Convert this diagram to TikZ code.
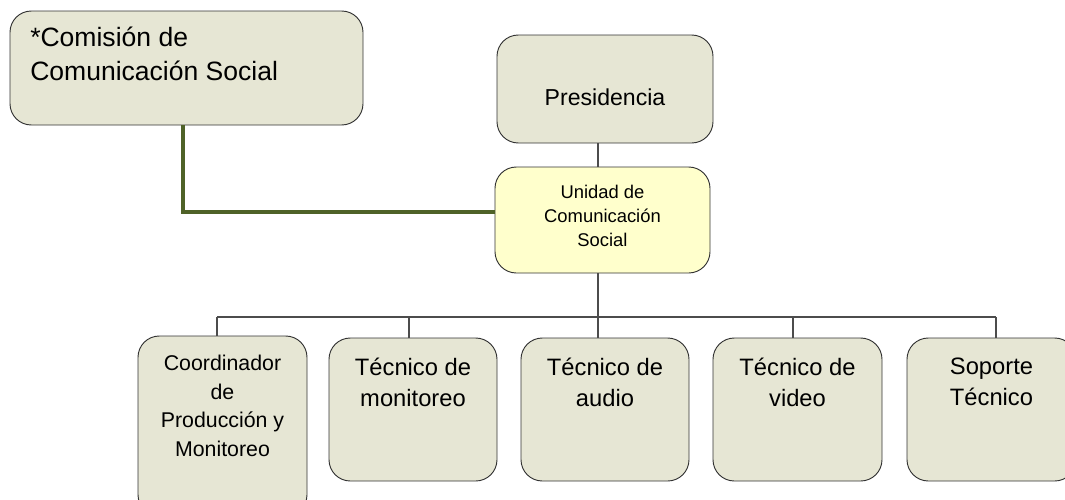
\documentclass[tikz,border=0pt]{standalone}
\usepackage{fontspec}
\setmainfont{Liberation Sans}
\usetikzlibrary{positioning}

\definecolor{boxfill}{RGB}{230,230,212}
\definecolor{unitfill}{RGB}{255,255,204}
\definecolor{comisiongreen}{RGB}{79,98,40}

\tikzset{
  orgbox/.style={draw=black!80, fill=boxfill, line width=0.7pt, rounded corners=16pt, inner sep=0pt},
  orgtext/.style={align=center, inner sep=0pt, font=\fontsize{17.8}{23.3}\selectfont},
  orgline/.style={draw=black!70, line width=0.8pt},
  comline/.style={draw=comisiongreen, line width=3pt},
}

\begin{document}
\begin{tikzpicture}[x=0.75pt, y=-0.75pt]
                \clip (0,0) rectangle (1065,500);
                \useasboundingbox (0,0) rectangle (1065,500);

                % top boxes
                \node[orgbox, minimum width=264.75pt, minimum height=85.5pt] (comision) at (186.5,68) {};
                \node[anchor=north west, align=left, inner sep=0pt, font=\fontsize{19.9}{25.5}\selectfont] (comisiontxt) at (30,27) {*Comisión de\\Comunicación Social};

                \node[orgbox, minimum width=162pt, minimum height=81pt] (pres) at (605,89) {};
                \node[orgtext, font=\fontsize{17.3}{20}\selectfont] (prestxt) at (605,97) {Presidencia};

                \node[orgbox, fill=unitfill, minimum width=161.25pt, minimum height=79.5pt] (unit) at (602.5,220) {};
                \node[orgtext, font=\fontsize{13.8}{18}\selectfont] (unittxt) at (602.5,216) {Unidad de\\Comunicación\\Social};

                % bottom row
                \node[orgbox, minimum width=126.75pt, minimum height=135pt] (b1) at (222.5,426) {};
                \node[orgbox, minimum width=126pt, minimum height=107.25pt] (b2) at (413,409.5) {};
                \node[orgbox, minimum width=126pt, minimum height=107.25pt] (b3) at (605,409.5) {};
                \node[orgbox, minimum width=126.75pt, minimum height=107.25pt] (b4) at (797.5,409.5) {};
                \node[orgbox, minimum width=126.75pt, minimum height=107.25pt] (b5) at (991.5,409.5) {};

                \node[orgtext, font=\fontsize{16}{21.4}\selectfont] (b1txt) at (222.5,406) {Coordinador\\de\\Producción y\\Monitoreo};
                \node[orgtext] (b2txt) at (413,382) {Técnico de\\monitoreo};
                \node[orgtext] (b3txt) at (605,382) {Técnico de\\audio};
                \node[orgtext] (b4txt) at (797.5,382) {Técnico de\\video};
                \node[orgtext] (b5txt) at (991.5,382) {Soporte\\Técnico};

                % connectors
                \coordinate (trunk) at (598,317);
                \coordinate (busL) at (217,317);
                \coordinate (busR) at (996,317);
                \draw[orgline] (pres.south -| trunk) -- (unit.north -| trunk);
                \draw[orgline] (unit.south -| trunk) -- (trunk);
                \draw[orgline] (busL) -- (busR);
                \foreach \b/\x in {b1/217, b2/409, b3/598, b4/793, b5/996} {
                    \coordinate (d\b) at (\x,317);
                    \draw[orgline] (d\b) -- (d\b |- \b.north);
                }

                \coordinate (elbow) at (183,212);
                \draw[comline] (comision.south -| elbow) -- (elbow) -- (elbow -| unit.west);

\end{tikzpicture}
\end{document}
